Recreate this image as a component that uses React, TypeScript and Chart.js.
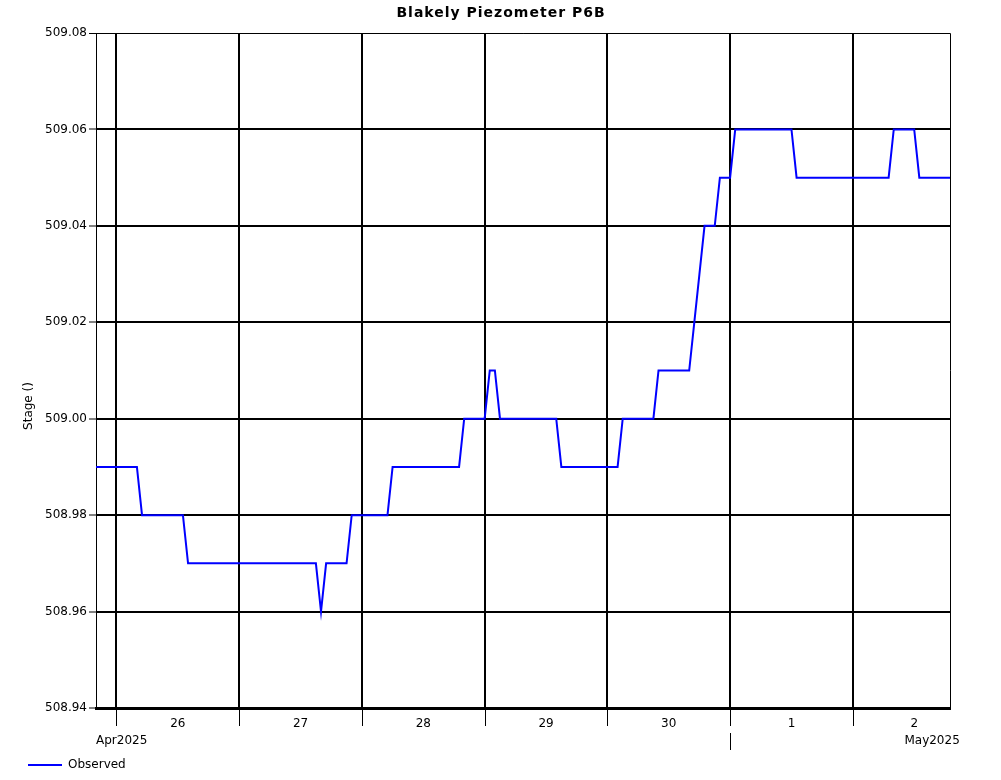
import React, { useEffect, useRef } from "react";
import { Chart, registerables } from "chart.js";

Chart.register(...registerables);

const chartTitle = "Blakely Piezometer P6B";
const yAxisTitle = "Stage ()";
const seriesName = "Observed";

// hourly samples, first sample at Apr 25 2025 20:00
const startHourFromApr26 = -4;
const dayLabels = ["26", "27", "28", "29", "30", "1", "2"];
const monthLabels = ["Apr2025", "May2025"];
const yTicks = [508.94, 508.96, 508.98, 509.0, 509.02, 509.04, 509.06, 509.08];

const apr25 = [508.99, 508.99, 508.99, 508.99];
const apr26 = [
  508.99, 508.99, 508.99, 508.99, 508.99, 508.98, 508.98, 508.98, 508.98, 508.98, 508.98, 508.98,
  508.98, 508.98, 508.97, 508.97, 508.97, 508.97, 508.97, 508.97, 508.97, 508.97, 508.97, 508.97,
];
const apr27 = [
  508.97, 508.97, 508.97, 508.97, 508.97, 508.97, 508.97, 508.97, 508.97, 508.97, 508.97, 508.97,
  508.97, 508.97, 508.97, 508.97, 508.96, 508.97, 508.97, 508.97, 508.97, 508.97, 508.98, 508.98,
];
const apr28 = [
  508.98, 508.98, 508.98, 508.98, 508.98, 508.98, 508.99, 508.99, 508.99, 508.99, 508.99, 508.99,
  508.99, 508.99, 508.99, 508.99, 508.99, 508.99, 508.99, 508.99, 509.0, 509.0, 509.0, 509.0,
];
const apr29 = [
  509.0, 509.01, 509.01, 509.0, 509.0, 509.0, 509.0, 509.0, 509.0, 509.0, 509.0, 509.0,
  509.0, 509.0, 509.0, 508.99, 508.99, 508.99, 508.99, 508.99, 508.99, 508.99, 508.99, 508.99,
];
const apr30 = [
  508.99, 508.99, 508.99, 509.0, 509.0, 509.0, 509.0, 509.0, 509.0, 509.0, 509.01, 509.01,
  509.01, 509.01, 509.01, 509.01, 509.01, 509.02, 509.03, 509.04, 509.04, 509.04, 509.05, 509.05,
];
const may01 = [
  509.05, 509.06, 509.06, 509.06, 509.06, 509.06, 509.06, 509.06, 509.06, 509.06, 509.06, 509.06,
  509.06, 509.05, 509.05, 509.05, 509.05, 509.05, 509.05, 509.05, 509.05, 509.05, 509.05, 509.05,
];
const may02 = [
  509.05, 509.05, 509.05, 509.05, 509.05, 509.05, 509.05, 509.05, 509.06, 509.06, 509.06, 509.06,
  509.06, 509.05, 509.05, 509.05, 509.05, 509.05, 509.05, 509.05,
];

const observed = [...apr25, ...apr26, ...apr27, ...apr28, ...apr29, ...apr30, ...may01, ...may02];

const FONT = "'DejaVu Sans', sans-serif";

export default function App() {
  const ref = useRef<HTMLCanvasElement | null>(null);

  useEffect(() => {
    const canvas = ref.current;
    if (!canvas) return;
    const points = observed.map((v, i) => ({ x: startHourFromApr26 + i, y: v }));
    const xMin = startHourFromApr26;
    const xMax = startHourFromApr26 + observed.length - 1;

    const decor = {
      id: "decor",
      afterDraw(chart: any) {
        const ctx = chart.ctx;
        const { left, right, top, bottom } = chart.chartArea;
        const xs = chart.scales.x;
        ctx.save();
        // right + top border
        ctx.strokeStyle = "#000";
        ctx.lineWidth = 1;
        ctx.beginPath();
        ctx.moveTo(left, top + 0.5);
        ctx.lineTo(Math.round(right) + 0.5, top + 0.5);
        ctx.lineTo(Math.round(right) + 0.5, bottom);
        ctx.stroke();
        // x tick marks at midnights
        ctx.beginPath();
        for (let d = 0; d <= 6; d++) {
          const px = Math.round(xs.getPixelForValue(d * 24)) + 0.5;
          ctx.moveTo(px, bottom + 1);
          ctx.lineTo(px, bottom + 18);
        }
        // month boundary tick
        const mpx = Math.round(xs.getPixelForValue(5 * 24)) + 0.5;
        ctx.moveTo(mpx, bottom + 25);
        ctx.lineTo(mpx, bottom + 42);
        ctx.stroke();
        // month labels
        ctx.fillStyle = "#000";
        ctx.font = `12px ${FONT}`;
        ctx.textBaseline = "middle";
        ctx.textAlign = "left";
        ctx.fillText(monthLabels[0], left, bottom + 33);
        ctx.textAlign = "center";
        ctx.fillText(monthLabels[1], xs.getPixelForValue(6 * 24 + 15.5), bottom + 33);
        // y axis title
        ctx.save();
        ctx.translate(29, 406);
        ctx.rotate(-Math.PI / 2);
        ctx.textAlign = "center";
        ctx.textBaseline = "middle";
        ctx.fillText(yAxisTitle, 0, 0);
        ctx.restore();
        // title
        ctx.font = `bold 14px ${FONT}`;
        try {
          (ctx as any).letterSpacing = "1px";
        } catch (e) {}
        ctx.textAlign = "center";
        ctx.fillText(chartTitle, 501, 13);
        try {
          (ctx as any).letterSpacing = "0px";
        } catch (e) {}
        // legend
        ctx.strokeStyle = "#0000ff";
        ctx.lineWidth = 2;
        ctx.beginPath();
        ctx.moveTo(28, 765);
        ctx.lineTo(62, 765);
        ctx.stroke();
        ctx.font = `12px ${FONT}`;
        ctx.textAlign = "left";
        ctx.fillText(seriesName, 68, 765);
        ctx.restore();
      },
    };

    const chart = new Chart(canvas, {
      type: "line",
      data: {
        datasets: [
          {
            label: seriesName,
            data: points,
            borderColor: "#0000ff",
            borderWidth: 2,
            pointRadius: 0,
            tension: 0,
            fill: false,
          },
        ],
      },
      options: {
        responsive: false,
        animation: false,
        layout: { padding: { top: 33, left: 0, right: 51, bottom: 0 } },
        plugins: {
          legend: { display: false },
          title: { display: false },
          tooltip: { enabled: false },
        },
        scales: {
          x: {
            type: "linear",
            min: xMin,
            max: xMax,
            afterBuildTicks: (scale: any) => {
              const t = [];
              for (let h = 0; h <= 156; h += 12) t.push({ value: h });
              scale.ticks = t;
            },
            afterFit: (scale: any) => {
              scale.height = 72;
            },
            grid: {
              drawTicks: false,
              color: (c: any) => (c.tick && c.tick.value % 24 === 0 ? "#000" : "rgba(0,0,0,0)"),
              lineWidth: 2,
            },
            border: { display: true, color: "#000", width: 3 },
            ticks: {
              autoSkip: false,
              maxRotation: 0,
              padding: 9,
              color: "#000",
              font: { family: FONT, size: 12 },
              callback: (v: any) => {
                const n = Number(v);
                if (n % 24 === 12) return dayLabels[(n - 12) / 24];
                return "";
              },
            },
          },
          y: {
            type: "linear",
            min: 508.94,
            max: 509.08,
            afterBuildTicks: (scale: any) => {
              scale.ticks = yTicks.map((v) => ({ value: v }));
            },
            afterFit: (scale: any) => {
              scale.width = 96;
            },
            title: { display: false },
            grid: {
              color: "#000",
              lineWidth: (c: any) => (c.tick && Math.abs(c.tick.value - 509.08) < 1e-6 ? 1 : 2),
              tickLength: 7,
              tickWidth: 1,
              tickColor: "#000",
            },
            border: { display: true, color: "#000", width: 1 },
            ticks: {
              autoSkip: false,
              padding: 2,
              color: "#000",
              font: { family: FONT, size: 12 },
              callback: (v: any) => Number(v).toFixed(2),
            },
          },
        },
      },
      plugins: [decor],
    });

    return () => chart.destroy();
  }, []);

  return (
    <div style={{ position: "fixed", left: 0, top: 0, width: 1001, height: 780, background: "#fff" }}>
      <canvas ref={ref} width={1001} height={780} style={{ display: "block", width: 1001, height: 780 }} />
    </div>
  );
}
